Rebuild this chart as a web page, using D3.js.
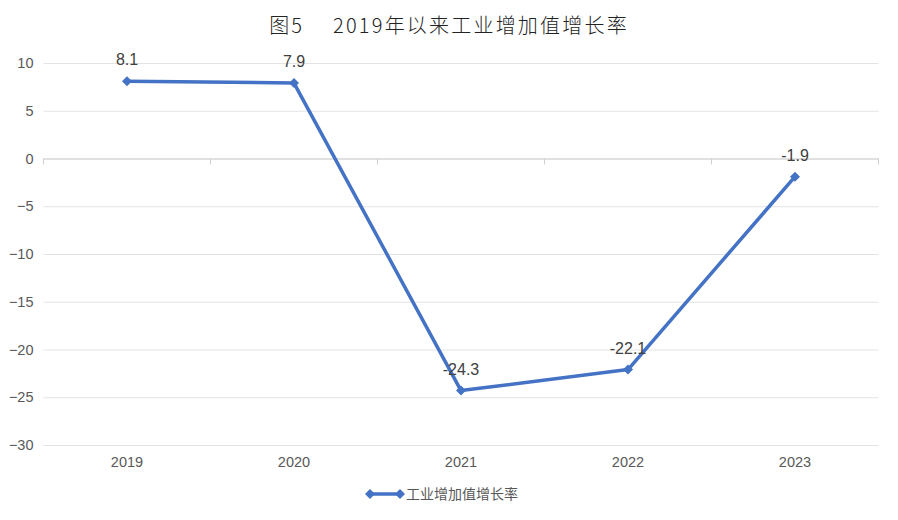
<!DOCTYPE html>
<html><head><meta charset="utf-8">
<script src="https://cdn.jsdelivr.net/npm/d3@7"></script>
<style>html,body{margin:0;padding:0;background:#fff;}svg{display:block;}</style>
</head><body>
<svg id="c" width="898" height="520"></svg>
<script>
const categories = ["2019","2020","2021","2022","2023"];
const values = [8.1, 7.9, -24.3, -22.1, -1.9];
const yTicks = [10, 5, 0, -5, -10, -15, -20, -25, -30];
const seriesName = "工业增加值增长率";
const titleText = "图5\u3000 2019年以来工业增加值增长率";

const svg = d3.select("#c");
const W = 898, H = 520;
const m = {l:43.5, r:19.5, t:63, b:75};
const x = d3.scaleBand().domain(categories).range([m.l, W - m.r]);
const y = d3.scaleLinear().domain([-30, 10]).range([445, 63]);
const font = "'Liberation Sans', Arial, sans-serif";
const color = "#4472C4";

svg.append("text").attr("x", 449).attr("y", 33).attr("text-anchor", "middle")
  .attr("font-family", "'Noto Sans CJK SC', sans-serif").attr("font-weight", 300)
  .attr("font-size", 20).attr("fill", "#222").attr("letter-spacing", 2.2).text(titleText);

// gridlines
const yAxis = d3.axisLeft(y).tickValues(yTicks).tickSize(-(W - m.r - m.l)).tickPadding(10);
const gy = svg.append("g").attr("transform", `translate(${m.l},0)`).call(yAxis);
gy.select(".domain").remove();
gy.selectAll(".tick line").attr("stroke", "#e3e3e3").attr("stroke-width", 1);
gy.selectAll(".tick text").attr("font-family", font).attr("font-size", 14.5).attr("fill", "#595959");

// category axis at zero
const xAxis = d3.axisBottom(x).tickSize(0).tickPadding(0);
const gx = svg.append("g").attr("transform", `translate(0,${y(0)})`).call(xAxis);
gx.select(".domain").attr("stroke", "#d0d0d0");
gx.selectAll(".tick text").remove();
const bounds = categories.map(c => x(c)).concat([x(categories[categories.length-1]) + x.bandwidth()]);
gx.selectAll("line.bt").data(bounds).enter().append("line").attr("class","bt")
  .attr("x1", d => d).attr("x2", d => d).attr("y1", 0).attr("y2", 6).attr("stroke", "#d0d0d0");

// x labels at bottom
svg.append("g").selectAll("text").data(categories).enter().append("text")
  .attr("x", d => x(d) + x.bandwidth()/2).attr("y", 467).attr("text-anchor", "middle")
  .attr("font-family", font).attr("font-size", 14.5).attr("fill", "#595959").text(d => d);

const pts = categories.map((c, i) => ({c, v: values[i]}));
const line = d3.line().x(d => x(d.c) + x.bandwidth()/2).y(d => y(d.v));
svg.append("path").datum(pts).attr("d", line).attr("fill", "none")
  .attr("stroke", color).attr("stroke-width", 3.5).attr("stroke-linejoin", "round");

const marker = d3.symbol().type(d3.symbolSquare).size(50);
svg.append("g").selectAll("path").data(pts).enter().append("path")
  .attr("d", marker).attr("fill", color)
  .attr("transform", d => `translate(${x(d.c) + x.bandwidth()/2},${y(d.v)}) rotate(45)`);

svg.append("g").selectAll("text").data(pts).enter().append("text")
  .attr("x", d => x(d.c) + x.bandwidth()/2).attr("y", d => y(d.v) - 16)
  .attr("text-anchor", "middle").attr("font-family", font).attr("font-size", 16)
  .attr("fill", "#404040").text(d => d.v.toFixed(1));

// legend
const lg = svg.append("g");
lg.append("line").attr("x1", 367).attr("x2", 402).attr("y1", 494).attr("y2", 494)
  .attr("stroke", color).attr("stroke-width", 3.5);
[370, 400].forEach(px => lg.append("path").attr("d", marker).attr("fill", color)
  .attr("transform", `translate(${px},494) rotate(45)`));
lg.append("text").attr("x", 406).attr("y", 499).attr("font-family", "'Noto Sans CJK SC', sans-serif")
  .attr("font-size", 14).attr("fill", "#595959").text(seriesName);
</script>
</body></html>
